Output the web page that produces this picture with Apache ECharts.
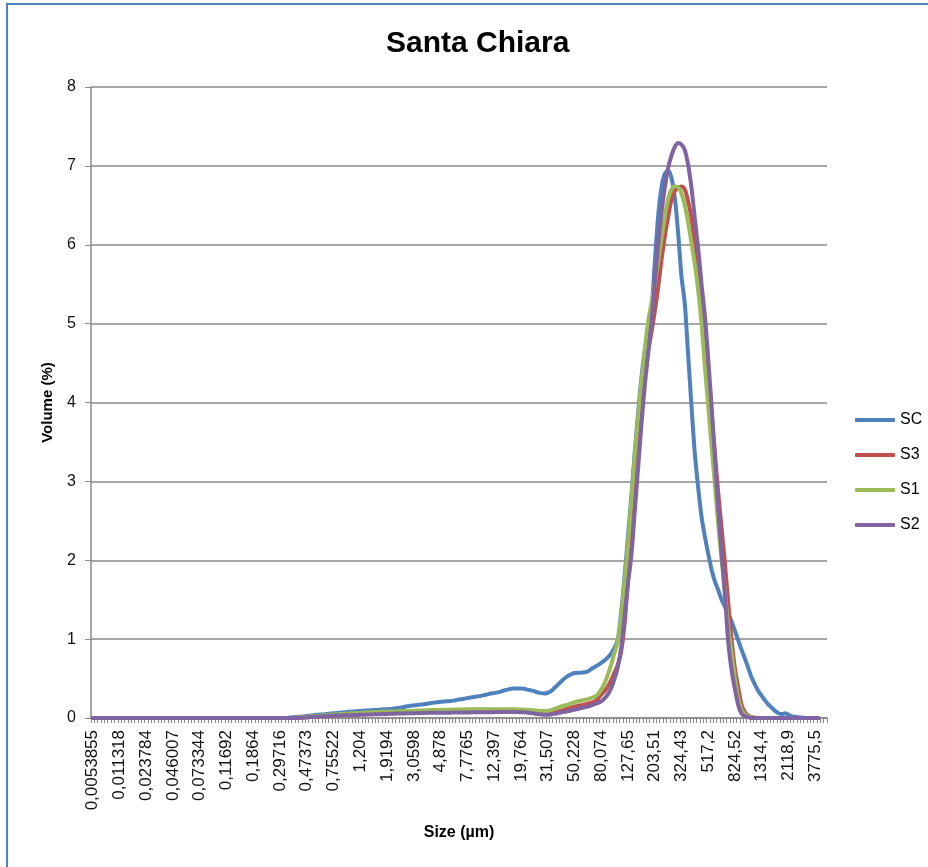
<!DOCTYPE html>
<html>
<head>
<meta charset="utf-8">
<title>Santa Chiara</title>
<script src="https://cdn.jsdelivr.net/npm/echarts@6/dist/echarts.min.js"></script>
<style>
  html, body { margin: 0; padding: 0; background: #fff; }
  #chart { width: 928px; height: 867px; }
</style>
</head>
<body>
<div id="chart"></div>
<script>
// Particle size bins (µm): one label every 8 bins, 220 bins on the axis
const sizeLabels = [
  '0,0053855', '0,011318', '0,023784', '0,046007', '0,073344', '0,11692', '0,1864',
  '0,29716', '0,47373', '0,75522', '1,204', '1,9194', '3,0598', '4,878', '7,7765',
  '12,397', '19,764', '31,507', '50,228', '80,074', '127,65', '203,51', '324,43',
  '517,2', '824,52', '1314,4', '2118,9', '3775,5'
];
const binCount = 220;
const labelStep = 8;

const yTicks = { min: 0, max: 8, interval: 1 };

// Volume (%) per bin
const seriesSC = [
  0,0,0,0,0,0,0,0,0,0,
  0,0,0,0,0,0,0,0,0,0,
  0,0,0,0,0,0,0,0,0,0,
  0,0,0,0,0,0,0,0,0,0,
  0,0,0,0,0,0,0,0,0,0,
  0,0,0,0,0,0,0,0,0,0.005,
  0.01,0.012,0.015,0.02,0.025,0.03,0.035,0.04,0.043,0.046,
  0.05,0.055,0.06,0.063,0.067,0.07,0.075,0.08,0.083,0.086,
  0.09,0.092,0.095,0.098,0.1,0.103,0.106,0.11,0.112,0.115,
  0.12,0.125,0.13,0.14,0.15,0.155,0.16,0.165,0.17,0.175,
  0.18,0.19,0.195,0.2,0.205,0.21,0.212,0.215,0.222,0.23,
  0.237,0.245,0.252,0.26,0.267,0.275,0.28,0.29,0.3,0.31,
  0.315,0.325,0.335,0.35,0.36,0.37,0.375,0.375,0.375,0.37,
  0.36,0.35,0.34,0.325,0.315,0.31,0.32,0.34,0.38,0.42,
  0.46,0.5,0.53,0.555,0.57,0.575,0.575,0.58,0.59,0.62,
  0.645,0.67,0.7,0.73,0.77,0.82,0.89,1.0,1.35,1.8,
  2.3,2.8,3.35,3.85,4.3,4.65,4.9,5.15,5.76,6.35,
  6.72,6.9,6.94,6.85,6.6,6.15,5.6,5.25,4.6,3.95,
  3.35,2.92,2.55,2.3,2.08,1.88,1.73,1.62,1.5,1.41,
  1.32,1.22,1.1,0.98,0.86,0.75,0.63,0.51,0.42,0.34,
  0.28,0.22,0.17,0.13,0.09,0.06,0.05,0.06,0.04,0.02,
  0.015,0.01,0.005,0,0,0,0,0
];

const seriesS3 = [
  0,0,0,0,0,0,0,0,0,0,
  0,0,0,0,0,0,0,0,0,0,
  0,0,0,0,0,0,0,0,0,0,
  0,0,0,0,0,0,0,0,0,0,
  0,0,0,0,0,0,0,0,0,0,
  0,0,0,0,0,0,0,0,0,0,
  0,0,0.003,0.006,0.01,0.013,0.016,0.02,0.023,0.026,
  0.03,0.032,0.035,0.037,0.04,0.042,0.044,0.046,0.048,0.05,
  0.052,0.054,0.056,0.058,0.06,0.062,0.063,0.065,0.066,0.068,
  0.07,0.071,0.072,0.074,0.075,0.076,0.077,0.078,0.079,0.08,
  0.081,0.082,0.083,0.084,0.085,0.085,0.086,0.087,0.087,0.088,
  0.088,0.089,0.09,0.09,0.09,0.09,0.09,0.09,0.09,0.09,
  0.09,0.09,0.09,0.09,0.089,0.088,0.087,0.085,0.083,0.08,
  0.077,0.073,0.068,0.063,0.058,0.053,0.05,0.058,0.068,0.08,
  0.092,0.105,0.118,0.13,0.142,0.152,0.162,0.172,0.182,0.195,
  0.21,0.24,0.3,0.34,0.4,0.48,0.58,0.68,0.85,1.2,
  1.75,2.35,2.95,3.5,3.95,4.35,4.65,4.88,5.15,5.45,
  5.8,6.1,6.35,6.57,6.68,6.72,6.74,6.7,6.55,6.33,
  6.0,5.65,5.3,4.8,4.35,3.85,3.35,2.85,2.4,1.95,
  1.45,0.98,0.62,0.38,0.16,0.07,0.03,0.012,0.004,0,
  0,0,0,0,0,0,0,0,0,0,
  0,0,0,0,0,0,0,0
];

const seriesS1 = [
  0,0,0,0,0,0,0,0,0,0,
  0,0,0,0,0,0,0,0,0,0,
  0,0,0,0,0,0,0,0,0,0,
  0,0,0,0,0,0,0,0,0,0,
  0,0,0,0,0,0,0,0,0,0,
  0,0,0,0,0,0,0,0,0,0,
  0,0.005,0.01,0.012,0.015,0.02,0.022,0.025,0.03,0.033,
  0.036,0.04,0.043,0.046,0.05,0.052,0.055,0.058,0.06,0.062,
  0.065,0.067,0.07,0.072,0.074,0.076,0.078,0.08,0.08,0.082,
  0.083,0.085,0.086,0.088,0.09,0.09,0.092,0.094,0.095,0.097,
  0.098,0.1,0.1,0.102,0.103,0.104,0.105,0.106,0.107,0.108,
  0.108,0.109,0.11,0.11,0.11,0.111,0.111,0.112,0.112,0.112,
  0.112,0.112,0.112,0.112,0.111,0.11,0.11,0.109,0.108,0.106,
  0.104,0.1,0.097,0.093,0.09,0.088,0.09,0.1,0.115,0.13,
  0.145,0.158,0.17,0.185,0.2,0.21,0.22,0.23,0.24,0.255,
  0.27,0.3,0.36,0.44,0.55,0.68,0.83,0.98,1.3,1.75,
  2.2,2.75,3.3,3.8,4.25,4.65,5.02,5.25,5.5,5.78,
  6.07,6.35,6.58,6.7,6.74,6.73,6.65,6.5,6.28,6.02,
  5.75,5.42,5.0,4.45,3.95,3.45,2.95,2.45,2.0,1.6,
  1.15,0.82,0.5,0.25,0.1,0.04,0.02,0.01,0,0,
  0,0,0,0,0,0,0,0,0,0,
  0,0,0,0,0,0,0,0
];

const seriesS2 = [
  0,0,0,0,0,0,0,0,0,0,
  0,0,0,0,0,0,0,0,0,0,
  0,0,0,0,0,0,0,0,0,0,
  0,0,0,0,0,0,0,0,0,0,
  0,0,0,0,0,0,0,0,0,0,
  0,0,0,0,0,0,0,0,0,0,
  0,0,0.003,0.006,0.01,0.012,0.015,0.018,0.02,0.022,
  0.025,0.027,0.03,0.031,0.033,0.034,0.035,0.036,0.037,0.038,
  0.04,0.041,0.043,0.044,0.046,0.047,0.049,0.05,0.052,0.053,
  0.055,0.056,0.057,0.058,0.059,0.06,0.061,0.062,0.063,0.064,
  0.065,0.065,0.066,0.066,0.067,0.067,0.068,0.068,0.069,0.069,
  0.07,0.07,0.071,0.071,0.072,0.072,0.072,0.073,0.073,0.074,
  0.074,0.075,0.075,0.075,0.075,0.075,0.075,0.075,0.074,0.072,
  0.068,0.062,0.056,0.05,0.045,0.04,0.04,0.045,0.052,0.06,
  0.07,0.077,0.085,0.095,0.105,0.115,0.125,0.135,0.145,0.16,
  0.175,0.19,0.21,0.25,0.3,0.38,0.5,0.65,0.9,1.3,
  1.7,2.05,2.6,3.15,3.7,4.2,4.6,5.0,5.5,6.0,
  6.4,6.72,6.97,7.13,7.24,7.29,7.27,7.2,7.01,6.72,
  6.33,5.95,5.5,5.1,4.55,3.95,3.3,2.65,2.1,1.55,
  0.95,0.6,0.36,0.16,0.05,0.02,0.01,0,0,0,
  0,0,0,0,0,0,0,0,0,0,
  0,0,0,0,0,0,0,0
];

const seriesNames = ['SC', 'S3', 'S1', 'S2'];
const seriesColors = ['#4F81BD', '#C0504D', '#9BBB59', '#8064A2'];
const seriesValues = [seriesSC, seriesS3, seriesS1, seriesS2];

// Category axis: bin labels on every 8th bin, blank elsewhere
const categories = [];
for (let i = 0; i < binCount; i++) {
  const k = i / labelStep;
  categories.push(i % labelStep === 0 && k < sizeLabels.length ? sizeLabels[k] : '');
}

const FONT = 'Liberation Sans, Arial, sans-serif';
const AXIS_GRAY = '#8a8a8a';

const chart = echarts.init(document.getElementById('chart'), null, { renderer: 'canvas' });

chart.setOption({
  backgroundColor: '#ffffff',
  animation: false,
  textStyle: { fontFamily: FONT },
  title: {
    text: 'Santa Chiara',
    left: 381,
    top: 24,
    textStyle: { fontFamily: FONT, fontSize: 30, fontWeight: 'bold', color: '#000' }
  },
  graphic: [{
    type: 'rect',
    shape: { x: 7, y: 4, width: 960, height: 920 },
    style: { fill: 'none', stroke: '#4F81BD', lineWidth: 2 },
    silent: true
  }],
  legend: {
    orient: 'vertical',
    left: 850,
    top: 407,
    icon: 'roundRect',
    itemWidth: 40,
    itemHeight: 4,
    itemGap: 19,
    textStyle: { fontFamily: FONT, fontSize: 16, color: '#000' },
    data: seriesNames
  },
  grid: { left: 91, top: 87, width: 736, height: 631, containLabel: false },
  xAxis: {
    type: 'category',
    data: categories,
    boundaryGap: true,
    name: 'Size (µm)',
    nameLocation: 'middle',
    nameGap: 107,
    nameTextStyle: { fontFamily: FONT, fontSize: 16, fontWeight: 'bold', color: '#000' },
    axisLine: { show: true, lineStyle: { color: AXIS_GRAY, width: 1.5 } },
    axisTick: { show: true, interval: 0, length: 5, lineStyle: { color: AXIS_GRAY, width: 1 } },
    axisLabel: {
      interval: labelStep - 1,
      rotate: 90,
      margin: 12,
      fontFamily: FONT,
      fontSize: 17,
      color: '#111'
    },
    splitLine: { show: false }
  },
  yAxis: {
    type: 'value',
    min: yTicks.min,
    max: yTicks.max,
    interval: yTicks.interval,
    name: 'Volume (%)',
    nameLocation: 'middle',
    nameGap: 36,
    nameTextStyle: { fontFamily: FONT, fontSize: 15, fontWeight: 'bold', color: '#000' },
    axisLine: { show: true, lineStyle: { color: AXIS_GRAY, width: 1.5 } },
    axisTick: { show: true, length: 6, lineStyle: { color: AXIS_GRAY, width: 1 } },
    axisLabel: { margin: 15, fontFamily: FONT, fontSize: 16, color: '#111' },
    splitLine: { show: true, lineStyle: { color: AXIS_GRAY, width: 1.5 } }
  },
  series: seriesNames.map((name, idx) => ({
    name: name,
    type: 'line',
    data: seriesValues[idx],
    showSymbol: false,
    symbol: 'none',
    smooth: 0.3,
    color: seriesColors[idx],
    lineStyle: { color: seriesColors[idx], width: 4, cap: 'round', join: 'round' },
    z: 2 + idx
  }))
});
</script>
</body>
</html>
